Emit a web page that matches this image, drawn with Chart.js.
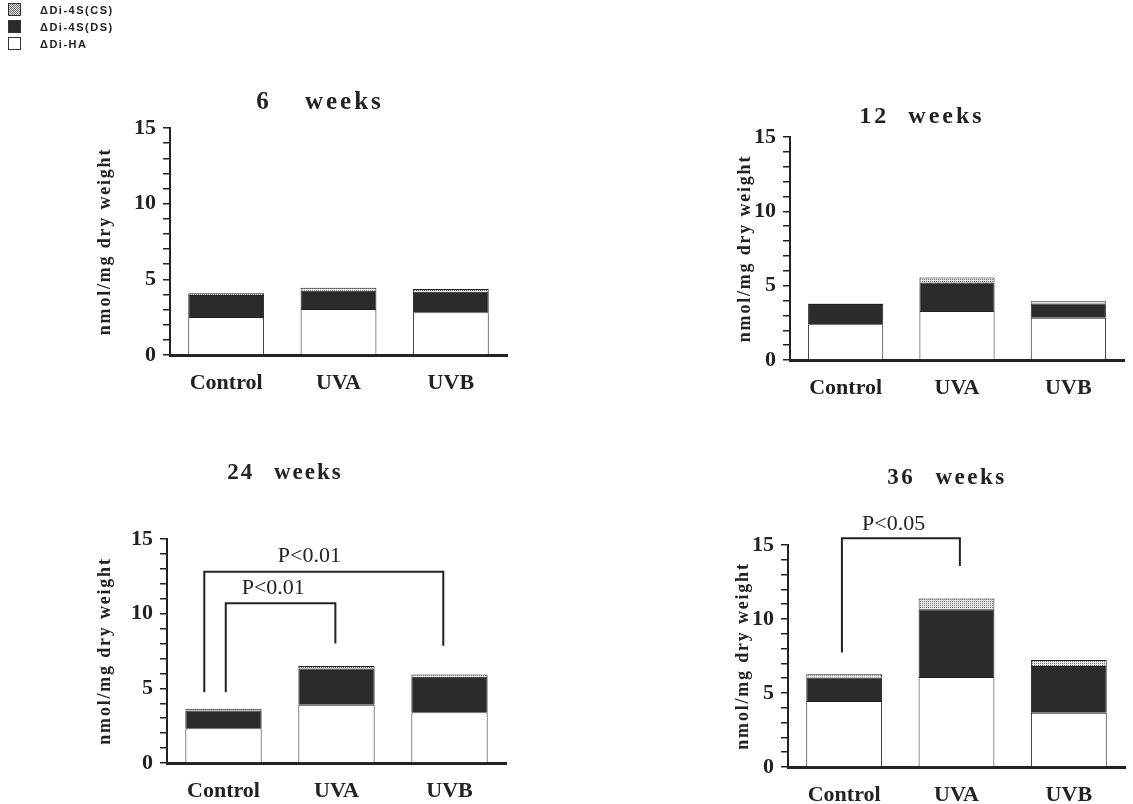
<!DOCTYPE html>
<html>
<head>
<meta charset="utf-8">
<script src="https://cdn.jsdelivr.net/npm/chart.js@4"></script>
<style>
  body { margin: 0; background: #fff; width: 1133px; height: 804px; overflow: hidden; position: relative; }
  canvas { position: absolute; }
  #legend { position: absolute; left: 8px; top: 1px; font: bold 11px "Liberation Sans", sans-serif; letter-spacing: 1.5px; color: #222; z-index: 5; }
  #legend div { height: 17px; display: flex; align-items: center; }
  #legend .sw { display: inline-block; width: 13px; height: 13px; border: 1px solid #333; box-sizing: border-box; margin-right: 19px; }
</style>
</head>
<body>
<div id="legend"></div>
<canvas id="c6"></canvas>
<canvas id="c12"></canvas>
<canvas id="c24"></canvas>
<canvas id="c36"></canvas>
<script>
const categories = ['Control', 'UVA', 'UVB'];
const seriesNames = ['ΔDi-4S(CS)', 'ΔDi-4S(DS)', 'ΔDi-HA'];
const yTicks = [0, 5, 10, 15];
const yTitle = 'nmol/mg dry weight';

// nmol/mg dry weight
const ha6 = [2.51, 3.04, 2.82];
const ds6 = [1.46, 1.21, 1.36];
const cs6 = [0.11, 0.20, 0.18];

const ha12 = [2.40, 3.29, 2.84];
const ds12 = [1.36, 1.92, 0.96];
const cs12 = [0.04, 0.34, 0.16];

const ha24 = [2.33, 3.90, 3.40];
const ds24 = [1.18, 2.43, 2.38];
const cs24 = [0.12, 0.17, 0.14];

const ha36 = [4.46, 6.08, 3.67];
const ds36 = [1.58, 4.58, 3.15];
const cs36 = [0.22, 0.72, 0.41];

// significance brackets (category index / value units)
const brackets24 = [
  { from: -0.17, to: 1.945, left: 4.73, top: 12.8, right: 7.85, label: 'P<0.01', lx: 0.76, ly: 13.85 },
  { from: 0.02, to: 0.99, left: 4.73, top: 10.7, right: 8.0, label: 'P<0.01', lx: 0.44, ly: 11.73 }
];
const brackets36 = [
  { from: -0.02, to: 1.03, left: 7.73, top: 15.45, right: 13.58, label: 'P<0.05', lx: 0.44, ly: 16.4 }
];

const ink = '#222';
const dsColor = '#2b2b2b';
const padTop = 110;

function dotPattern() {
  const c = document.createElement('canvas');
  c.width = 4; c.height = 4;
  const g = c.getContext('2d');
  g.fillStyle = '#e6e6e6';
  g.fillRect(0, 0, 4, 4);
  g.fillStyle = '#777';
  g.fillRect(0, 0, 1, 1); g.fillRect(2, 2, 1, 1);
  g.fillRect(2, 0, 1, 1); g.fillRect(0, 2, 1, 1);
  return g.createPattern(c, 'repeat');
}
const csFill = dotPattern();

// legend
const swatches = [
  'repeating-conic-gradient(#777 0 25%, #ddd 0 50%) 0 0/2px 2px',
  dsColor,
  '#fff'
];
const legendEl = document.getElementById('legend');
seriesNames.forEach((name, i) => {
  const row = document.createElement('div');
  row.innerHTML = '<span class="sw" style="background:' + swatches[i] + '"></span>' + name;
  legendEl.appendChild(row);
});

const annot = {
  id: 'annot',
  afterDraw(chart, args, opts) {
    const { ctx, chartArea, scales: { x, y } } = chart;
    ctx.save();
    ctx.fillStyle = ink;
    ctx.strokeStyle = ink;
    ctx.textAlign = 'center';
    ctx.textBaseline = 'middle';

    // axis title
    ctx.save();
    ctx.font = 'bold 18px "Liberation Serif"';
    ctx.letterSpacing = '1.8px';
    ctx.translate(chartArea.left - opts.titleGap, (chartArea.top + chartArea.bottom) / 2);
    ctx.rotate(-Math.PI / 2);
    ctx.fillText(yTitle, 0, 0);
    ctx.restore();

    // panel title
    const t = opts.title;
    ctx.save();
    ctx.font = 'bold ' + t.size + 'px "Liberation Serif"';
    ctx.letterSpacing = t.ls + 'px';
    ctx.wordSpacing = t.ws + 'px';
    ctx.fillText(t.text, chartArea.left + t.dx, chartArea.top + t.dy);
    ctx.restore();

    // brackets
    ctx.lineWidth = 2;
    ctx.font = '22px "Liberation Serif"';
    (opts.brackets || []).forEach(b => {
      ctx.beginPath();
      ctx.moveTo(x.getPixelForValue(b.from), y.getPixelForValue(b.left));
      ctx.lineTo(x.getPixelForValue(b.from), y.getPixelForValue(b.top));
      ctx.lineTo(x.getPixelForValue(b.to), y.getPixelForValue(b.top));
      ctx.lineTo(x.getPixelForValue(b.to), y.getPixelForValue(b.right));
      ctx.stroke();
      ctx.fillText(b.label, x.getPixelForValue(b.lx), y.getPixelForValue(b.ly));
    });
    ctx.restore();
  }
};

function createPanel(id, area, ha, ds, cs, title, titleGap, brackets) {
  const canvas = document.getElementById(id);
  canvas.width = 80 + area.w + 9;
  canvas.height = padTop + area.h + 45;
  canvas.style.left = (area.left - 80) + 'px';
  canvas.style.top = (area.top - padTop) + 'px';

  new Chart(canvas, {
    type: 'bar',
    data: {
      labels: categories,
      datasets: [
        { label: seriesNames[2], data: ha, backgroundColor: '#fff' },
        { label: seriesNames[1], data: ds, backgroundColor: dsColor },
        { label: seriesNames[0], data: cs, backgroundColor: csFill }
      ]
    },
    options: {
      responsive: false,
      animation: false,
      devicePixelRatio: 1,
      layout: { padding: { top: padTop, right: 9, left: 0, bottom: 0 } },
      datasets: {
        bar: {
          borderColor: ink,
          borderWidth: 1,
          categoryPercentage: 1,
          barPercentage: 0.675
        }
      },
      scales: {
        x: {
          stacked: true,
          grid: { display: false, drawTicks: false },
          border: { width: 3, color: ink },
          ticks: { color: ink, padding: 15, font: { family: 'Liberation Serif', size: 22, weight: 'bold' } },
          afterFit: s => { s.height = 45; }
        },
        y: {
          stacked: true,
          min: 0,
          max: 15,
          ticks: {
            stepSize: 1,
            autoSkip: false,
            padding: 7,
            color: ink,
            font: { family: 'Liberation Serif', size: 22, weight: 'bold' },
            callback: v => yTicks.includes(v) ? v : ''
          },
          grid: { drawOnChartArea: false, drawTicks: true, tickLength: 7, color: ink, lineWidth: 1.5 },
          border: { width: 2, color: ink },
          afterFit: s => { s.width = 80; }
        }
      },
      plugins: {
        legend: { display: false },
        tooltip: { enabled: false },
        annot: { title, titleGap, brackets }
      }
    },
    plugins: [annot]
  });
}

createPanel('c6',  { left: 170, top: 128, w: 337, h: 227 }, ha6,  ds6,  cs6,
  { text: '6 weeks',  size: 25, ls: 3,   ws: 24, dx: 150, dy: -25 }, 65);
createPanel('c12', { left: 790, top: 137, w: 334, h: 223 }, ha12, ds12, cs12,
  { text: '12 weeks', size: 24, ls: 3,   ws: 10, dx: 132, dy: -20 }, 45);
createPanel('c24', { left: 167, top: 539, w: 339, h: 224 }, ha24, ds24, cs24,
  { text: '24 weeks', size: 23, ls: 2,   ws: 12, dx: 118, dy: -66 }, 62, brackets24);
createPanel('c36', { left: 788, top: 545, w: 337, h: 222 }, ha36, ds36, cs36,
  { text: '36 weeks', size: 23, ls: 2.5, ws: 12, dx: 159, dy: -67 }, 45, brackets36);
</script>
</body>
</html>
